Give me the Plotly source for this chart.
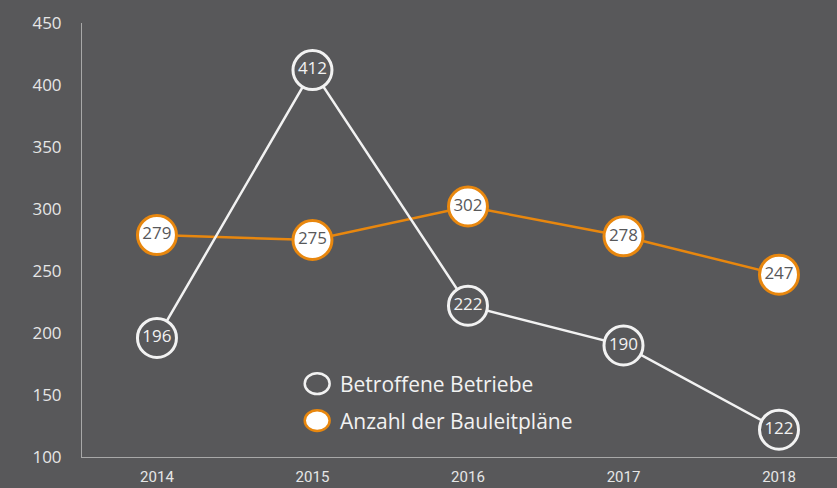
import plotly.graph_objects as go

years = [2014, 2015, 2016, 2017, 2018]
betriebe = [196, 412, 222, 190, 122]
bauleitplaene = [279, 275, 302, 278, 247]
series_names = ["Betroffene Betriebe", "Anzahl der Bauleitpläne"]

bg = "#58585a"
white = "#f2f2f2"
orange = "#e8870e"

fig = go.Figure()

fig.add_trace(go.Scatter(
    x=years, y=bauleitplaene, name=series_names[1],
    mode="lines+markers+text",
    text=[str(v) for v in bauleitplaene], textposition="middle center",
    textfont=dict(family="Open Sans", size=17, color="#58585a"),
    line=dict(color=orange, width=2.5),
    marker=dict(size=39, color="white", line=dict(color=orange, width=3)),
    showlegend=False, cliponaxis=False,
))

fig.add_trace(go.Scatter(
    x=years, y=betriebe, name=series_names[0],
    mode="lines+markers+text",
    text=[str(v) for v in betriebe], textposition="middle center",
    textfont=dict(family="Open Sans", size=17, color=white),
    line=dict(color=white, width=2.5),
    marker=dict(size=39, color=bg, line=dict(color=white, width=3)),
    showlegend=False, cliponaxis=False,
))

# hand-made legend (plotly caps legend marker size)
fig.add_shape(type="circle", xref="paper", yref="paper",
              x0=0.295, x1=0.328, y0=0.145, y1=0.193,
              line=dict(color=white, width=2.5), fillcolor=bg)
fig.add_shape(type="circle", xref="paper", yref="paper",
              x0=0.295, x1=0.328, y0=0.06, y1=0.108,
              line=dict(color=orange, width=2.5), fillcolor="white")
fig.add_annotation(xref="paper", yref="paper", x=0.339, y=0.169, xanchor="left",
                   yanchor="middle", text=series_names[0], showarrow=False,
                   font=dict(family="Open Sans", size=21, color=white))
fig.add_annotation(xref="paper", yref="paper", x=0.339, y=0.084, xanchor="left",
                   yanchor="middle", text=series_names[1], showarrow=False,
                   font=dict(family="Open Sans", size=21, color=white))

fig.update_layout(
    width=837, height=488,
    paper_bgcolor=bg, plot_bgcolor=bg,
    margin=dict(l=82, r=0, t=23, b=31),
    showlegend=False,
    xaxis=dict(
        range=[2013.518, 2018.373], tickvals=years,
        showgrid=False, zeroline=False, automargin=False,
        showline=True, linecolor="#a8a8a8", linewidth=1,
        tickfont=dict(family="Roboto", size=15, color="#e6e6e6"),
        ticks="", ticklabelstandoff=6,
    ),
    yaxis=dict(
        range=[100, 450], tickvals=[100, 150, 200, 250, 300, 350, 400, 450],
        showgrid=False, zeroline=False, automargin=False,
        showline=True, linecolor="#a8a8a8", linewidth=1,
        tickfont=dict(family="Open Sans", size=17, color="#e6e6e6"),
        ticks="", ticklabelstandoff=16,
    ),
)

# drop the default body margin of the page so the figure fills the window
fig.write_html("out.html", config={"displayModeBar": False},
               post_script="document.body.style.margin='0';"
               "document.body.style.background='#58585a';")
